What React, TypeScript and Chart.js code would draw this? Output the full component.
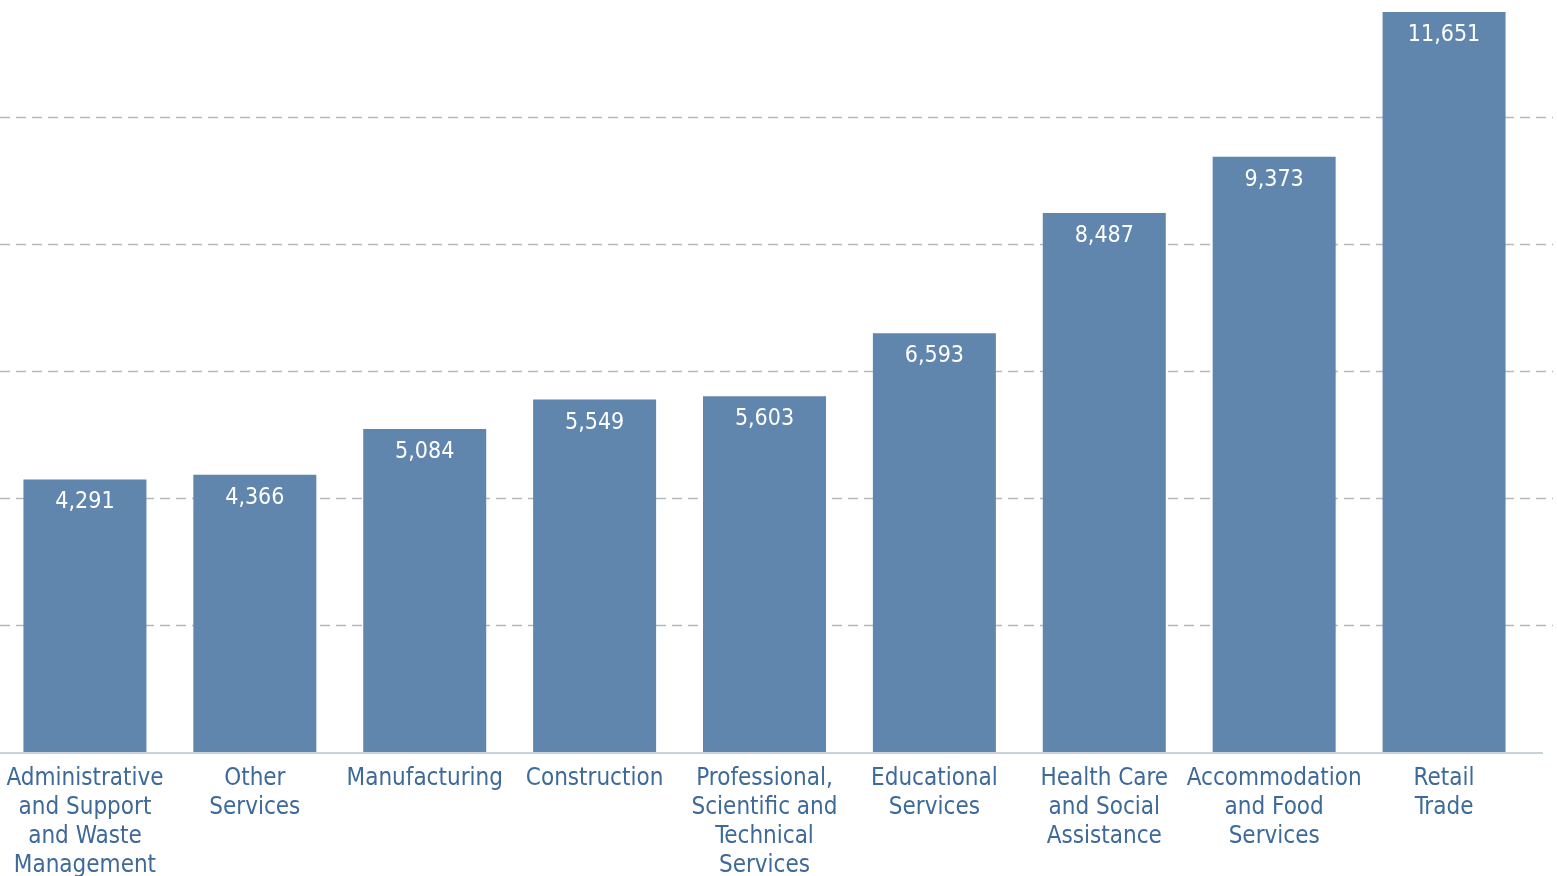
import { useEffect, useRef } from "react";
import { Chart, registerables } from "chart.js";

Chart.register(...registerables);

const categories: string[][] = [
  ["Administrative", "and Support", "and Waste", "Management"],
  ["Other", "Services"],
  ["Manufacturing"],
  ["Construction"],
  ["Professional,", "Scientific and", "Technical", "Services"],
  ["Educational", "Services"],
  ["Health Care", "and Social", "Assistance"],
  ["Accommodation", "and Food", "Services"],
  ["Retail", "Trade"],
];
const values: number[] = [4291, 4366, 5084, 5549, 5603, 6593, 8487, 9373, 11651];
const gridValues: number[] = [2000, 4000, 6000, 8000, 10000];

const FONT = '"DejaVu Sans", sans-serif';
const BAR_COLOR = "#6086ad";
const LABEL_COLOR = "#3d6a99";

const gridPlugin = {
  id: "dashedGrid",
  beforeDatasetsDraw(chart: any) {
    const { ctx } = chart;
    const y = chart.scales.y;
    ctx.save();
    ctx.strokeStyle = "#b5b9bd";
    ctx.lineWidth = 1.5;
    ctx.setLineDash([10, 6]);
    gridValues.forEach((v) => {
      const py = Math.round(y.getPixelForValue(v)) + 0.5;
      ctx.beginPath();
      ctx.moveTo(0, py);
      ctx.lineTo(1553, py);
      ctx.stroke();
    });
    ctx.setLineDash([]);
    const base = y.getPixelForValue(0);
    ctx.strokeStyle = "#c8d2dc";
    ctx.lineWidth = 2;
    ctx.beginPath();
    ctx.moveTo(0, base + 1);
    ctx.lineTo(1543, base + 1);
    ctx.stroke();
    ctx.restore();
  },
};

const labelPlugin = {
  id: "labels",
  afterDatasetsDraw(chart: any) {
    const { ctx } = chart;
    const meta = chart.getDatasetMeta(0);
    const x = chart.scales.x;
    const base = chart.scales.y.getPixelForValue(0);
    ctx.save();
    ctx.textAlign = "center";
    ctx.textBaseline = "middle";
    ctx.fillStyle = "#ffffff";
    ctx.font = `condensed 23px ${FONT}`;
    meta.data.forEach((bar: any, i: number) => {
      ctx.fillText(values[i].toLocaleString("en-US"), bar.x, bar.y + 23);
    });
    ctx.fillStyle = LABEL_COLOR;
    ctx.font = `condensed 24px ${FONT}`;
    categories.forEach((lines, i) => {
      const cx = x.getPixelForValue(i);
      lines.forEach((line, j) => {
        ctx.fillText(line, cx, base + 27 + j * 29);
      });
    });
    ctx.restore();
  },
};

export default function App() {
  const ref = useRef<HTMLCanvasElement | null>(null);
  useEffect(() => {
    if (!ref.current) return;
    const chart = new Chart(ref.current, {
      type: "bar",
      data: {
        labels: categories.map((c) => c.join(" ")),
        datasets: [
          {
            data: values,
            backgroundColor: BAR_COLOR,
            borderWidth: 0,
            categoryPercentage: 1,
            barPercentage: 0.724,
          },
        ],
      },
      options: {
        responsive: false,
        animation: false,
        layout: { padding: { left: 0, right: 28, top: 0, bottom: 0 } },
        plugins: { legend: { display: false }, tooltip: { enabled: false } },
        scales: {
          y: {
            display: false,
            min: 0,
            max: 11840,
            ticks: { stepSize: 2000 },
            grid: { display: false },
          },
          x: {
            grid: { display: false },
            border: { display: false },
            ticks: { display: false },
            afterFit: (scale: any) => {
              scale.height = 124;
            },
          },
        },
      },
      plugins: [gridPlugin, labelPlugin],
    });
    return () => chart.destroy();
  }, []);
  return (
    <div style={{ position: "absolute", left: 0, top: 0, width: 1557, height: 876, background: "#fff" }}>
      <canvas ref={ref} width={1557} height={876} />
    </div>
  );
}
